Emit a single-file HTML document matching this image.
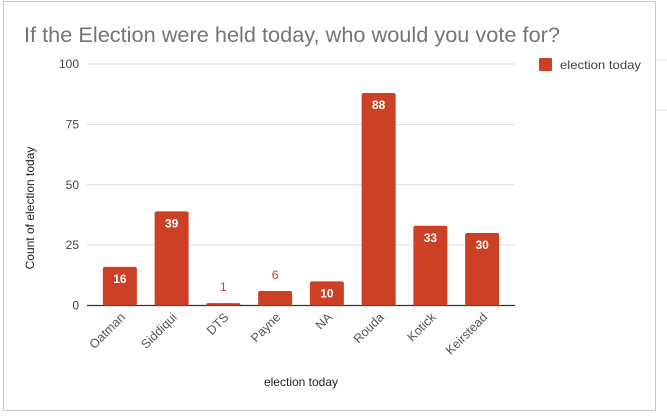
<!DOCTYPE html>
<html><head><meta charset="utf-8"><style>
body{margin:0;background:#fff;width:667px;height:415px;overflow:hidden;font-family:"Liberation Sans",Roboto,sans-serif}
</style></head><body>
<svg width="667" height="415" xmlns="http://www.w3.org/2000/svg">
<line x1="656" y1="60" x2="667" y2="60" stroke="#e0e0e0"/><line x1="656" y1="110" x2="667" y2="110" stroke="#e0e0e0"/>
<rect x="3.5" y="1.5" width="652" height="409" fill="#fff" stroke="#c8c8c8"/>
<text x="24" y="42" font-size="21" fill="#757575" textLength="536" lengthAdjust="spacingAndGlyphs">If the Election were held today, who would you vote for?</text>
<g id="grid"></g>
<g id="bars"></g>
<g id="xl"></g>
<text x="34" y="208" font-size="12" fill="#222" text-anchor="middle" transform="rotate(-90 34 208)">Count of election today</text>
<text x="301" y="386" font-size="12" fill="#222" text-anchor="middle">election today</text>
<g>
<rect x="539" y="58" width="13" height="13" rx="1" fill="#cc4125"/>
<text x="560" y="69" font-size="12" fill="#444" textLength="81" lengthAdjust="spacingAndGlyphs">election today</text></g>
</svg>
<script>
const categories=["Oatman","Siddiqui","DTS","Payne","NA","Rouda","Kotick","Keirstead"];
const values=[16,39,1,6,10,88,33,30];
const ticks=[0,25,50,75,100];
const NS="http://www.w3.org/2000/svg";
const x0=94,pw=414,y0=305.5,ph=241.5,ymax=100;
const band=pw/categories.length,bw=34;
const ys=v=>y0-v/ymax*ph;
const xc=i=>x0+band*(i+0.5);
function mk(t,a,p){const e=document.createElementNS(NS,t);for(const k in a)e.setAttribute(k,a[k]);p.appendChild(e);return e;}
const g=document.getElementById('grid');
ticks.forEach(t=>{
 const l=mk('line',{x1:87,x2:515,y1:ys(t),y2:ys(t),stroke:t===0?'#333':'#ddd','stroke-width':t===0?1.2:1},g);
 
 
 const tx=mk('text',{x:79,y:ys(t)+4,'font-size':12,fill:'#444','text-anchor':'end'},g);
 tx.textContent=t;
 
 
});
const bg=document.getElementById('bars'),xl=document.getElementById('xl');
categories.forEach((c,i)=>{
 const v=values[i],top=ys(v);
 const r=mk('rect',{x:xc(i)-bw/2,y:top,width:bw,height:y0-top,rx:2,fill:'#cc4125'},bg);
 
 
 const inside=(y0-top)>22;
 const t=mk('text',{x:xc(i),y:inside?top+16:top-12,'font-size':12,'font-weight':inside?'bold':'normal',fill:inside?'#fff':'#cc4125','text-anchor':'middle'},bg);
 t.textContent=v;
 
 
 const lx=xc(i)+6,ly=318;
 const l=mk('text',{x:lx,y:ly,'font-size':12.5,fill:'#555','text-anchor':'end',transform:`rotate(-45 ${lx} ${ly})`},xl);
 l.textContent=c;
 
 
});
</script>
</body></html>
